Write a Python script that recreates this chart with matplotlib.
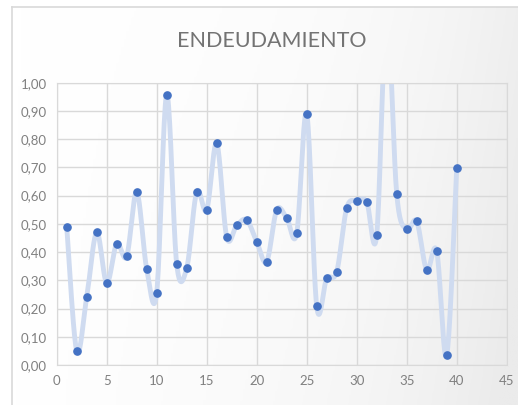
import numpy as np
import matplotlib
matplotlib.use("Agg")
import matplotlib.pyplot as plt

# datos (el punto 33 queda fuera del eje)
x = list(range(1, 41))
endeudamiento = [0.49, 0.05, 0.24, 0.47, 0.29, 0.43, 0.385, 0.613, 0.34, 0.256,
                 0.958, 0.357, 0.343, 0.613, 0.549, 0.785, 0.453, 0.495, 0.514, 0.437,
                 0.366, 0.549, 0.521, 0.466, 0.89, 0.208, 0.307, 0.33, 0.556, 0.581,
                 0.578, 0.461, 1.25, 0.607, 0.48, 0.509, 0.336, 0.404, 0.034, 0.698]
yticks = [0.0, 0.1, 0.2, 0.3, 0.4, 0.5, 0.6, 0.7, 0.8, 0.9, 1.0]
xticks = [0, 5, 10, 15, 20, 25, 30, 35, 40, 45]


def suavizar(xs, ys, n=20):
    # curva tipo Catmull-Rom, como la linea suavizada de Excel
    xs = np.asarray(xs, float)
    ys = np.asarray(ys, float)
    px = np.concatenate([[xs[0]], xs, [xs[-1]]])
    py = np.concatenate([[ys[0]], ys, [ys[-1]]])
    out_x, out_y = [], []
    t = np.linspace(0, 1, n, endpoint=False)
    for i in range(1, len(px) - 2):
        for p, o in ((px, out_x), (py, out_y)):
            p0, p1, p2, p3 = p[i - 1], p[i], p[i + 1], p[i + 2]
            c1 = p1 + (p2 - p0) / 6
            c2 = p2 - (p3 - p1) / 6
            o.extend((1 - t) ** 3 * p1 + 3 * (1 - t) ** 2 * t * c1
                     + 3 * (1 - t) * t ** 2 * c2 + t ** 3 * p2)
    out_x.append(xs[-1])
    out_y.append(ys[-1])
    return np.array(out_x), np.array(out_y)


fig = plt.figure(figsize=(5.18, 4.05), dpi=100)

# fondo con degradado y marco
bg = fig.add_axes([12 / 518, 0, 1 - 12 / 518, 1 - 7 / 405], zorder=-5)
gx, gy = np.meshgrid(np.linspace(0, 1, 200), np.linspace(0, 1, 200))
grad = np.clip(0.2 * gx + 0.6 * gx ** 4 + 0.3 * (1 - gy) * gx, 0, 1)
bg.imshow(grad, cmap=matplotlib.colors.LinearSegmentedColormap.from_list(
    "g", ["#ffffff", "#ebebeb"]), aspect="auto", extent=[0, 1, 0, 1], origin="lower")
bg.set_xlim(0, 1)
bg.set_ylim(0, 1)
bg.set_xticks([])
bg.set_yticks([])
for s in ["left", "top"]:
    bg.spines[s].set_color("#d9d9d9")
    bg.spines[s].set_linewidth(1.2)
for s in ["right", "bottom"]:
    bg.spines[s].set_visible(False)

ax = fig.add_axes([56.7 / 518, 1 - 365 / 405, 450 / 518, (365 - 82.7) / 405])
ax.patch.set_alpha(0)

sx, sy = suavizar(x, endeudamiento)
ax.plot(sx, sy, color="#cfdbf0", lw=3.5, zorder=2, solid_capstyle="round")
ax.plot(x, endeudamiento, "o", color="#4472c4", ms=5.2, zorder=3)

ax.set_xlim(0, 45)
ax.set_ylim(0, 1)
ax.set_xticks(xticks)
ax.set_yticks(yticks)
ax.set_yticklabels([f"{v:.2f}".replace(".", ",") for v in yticks])
ax.grid(True, color="#d9d9d9", lw=1)
ax.set_axisbelow(True)
for s in ax.spines.values():
    s.set_color("#d9d9d9")
ax.tick_params(length=0, labelsize=9.5, labelcolor="#808080", pad=7)
for lab in ax.get_xticklabels() + ax.get_yticklabels():
    lab.set_family(["Lato", "DejaVu Sans"])

fig.text(272 / 518, 1 - 41 / 405, "ENDEUDAMIENTO", ha="center", va="center",
         fontsize=15.5, color="#737373",
         family=["Lato", "DejaVu Sans"])

fig.savefig("out.png", dpi=100)
